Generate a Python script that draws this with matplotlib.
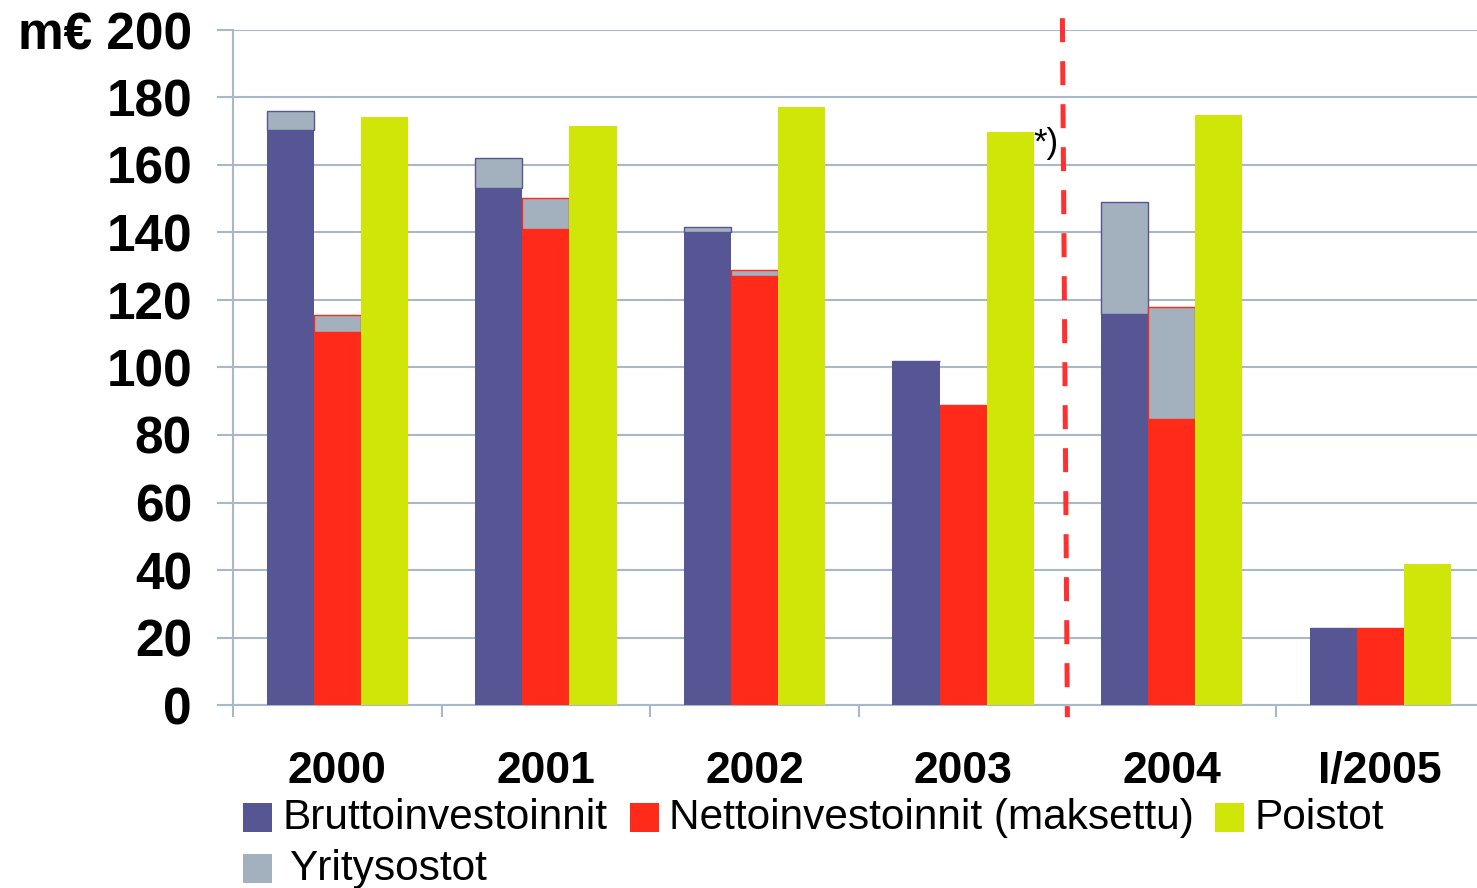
import matplotlib
matplotlib.use("Agg")
import matplotlib.pyplot as plt
from matplotlib.patches import Rectangle
import numpy as np

categories = ["2000", "2001", "2002", "2003", "2004", "I/2005"]
brutto = [170.5, 153.2, 140.1, 101.9, 115.9, 22.8]
brutto_yritys = [5.5, 8.9, 1.5, 0.0, 33.1, 0.0]
netto = [110.5, 141.0, 127.1, 88.9, 84.7, 22.8]
netto_yritys = [5.0, 9.2, 1.8, 0.0, 33.2, 0.0]
poistot = [174.2, 171.6, 177.2, 169.8, 174.8, 41.8]
yticks = [0, 20, 40, 60, 80, 100, 120, 140, 160, 180, 200]
ytick_labels = [str(v) for v in yticks[:-1]] + ["m€ 200"]
legend_labels = ["Bruttoinvestoinnit", "Nettoinvestoinnit (maksettu)", "Poistot", "Yritysostot"]

c_brutto = "#565695"
c_netto = "#FF2A1A"
c_poistot = "#D0E508"
c_yritys = "#A3B1BE"
c_grid = "#A8B8C8"

plt.rcParams['font.family'] = ['Liberation Sans', 'DejaVu Sans']

W, H = 1477, 888
fig = plt.figure(figsize=(W / 100, H / 100), dpi=100)
slot = 208.6
ax = fig.add_axes([233 / W, (H - 705) / H, 6 * slot / W, 675 / H])

x = np.arange(len(categories))
bw = 0.226
ax.bar(x - bw, brutto, bw, color=c_brutto, zorder=3)
ax.bar(x - bw, brutto_yritys, bw, bottom=brutto, color=c_yritys, edgecolor=c_brutto, linewidth=1, zorder=3)
ax.bar(x, netto, bw, color=c_netto, zorder=3)
ax.bar(x, netto_yritys, bw, bottom=netto, color=c_yritys, edgecolor=c_netto, linewidth=1, zorder=3)
ax.bar(x + bw, poistot, bw, color=c_poistot, zorder=3)

ax.set_xlim(-0.5, 5.5)
ax.set_ylim(0, 200)
ax.set_yticks(yticks)
ax.set_yticklabels(ytick_labels, fontsize=37, fontweight='bold')
ax.yaxis.grid(True, color=c_grid, linewidth=1.5, zorder=0)
ax.tick_params(axis='y', length=11.5, width=1.5, color=c_grid, pad=18)

ax.set_xticks(x)
ax.set_xticklabels(categories, fontsize=32, fontweight='bold')
ax.set_xticks(np.arange(-0.5, 5.6, 1.0), minor=True)
ax.tick_params(axis='x', which='major', length=0, pad=33)
ax.tick_params(axis='x', which='minor', length=8.6, width=1.5, color=c_grid)

for s in ['top', 'right']:
    ax.spines[s].set_visible(False)
for s in ['left', 'bottom']:
    ax.spines[s].set_color(c_grid)
    ax.spines[s].set_linewidth(1.5)

# dashed red separator
ax.plot([3.476, 3.5], [203.5, -3.6], color="#FF3030", linewidth=3.6,
        dashes=(4.8, 3.8), clip_on=False, zorder=4)
ax.text(3.335, 166.5, "*)", fontsize=25, ha='left', va='center', zorder=5)

# legend (manual)
def leg_item(xh, yc, color, label, xt):
    fig.patches.append(Rectangle((xh / W, (H - yc - 14.5) / H), 29 / W, 29 / H,
                                 transform=fig.transFigure, facecolor=color, edgecolor='none'))
    fig.text(xt / W, (H - yc - 1) / H, label, fontsize=30.5, va='center', ha='left')

leg_item(243, 817, c_brutto, legend_labels[0], 283)
leg_item(630, 817, c_netto, legend_labels[1], 669)
leg_item(1215, 817, c_poistot, legend_labels[2], 1254)
leg_item(243, 868, c_yritys, legend_labels[3], 289)

fig.savefig("out.png", dpi=100)
